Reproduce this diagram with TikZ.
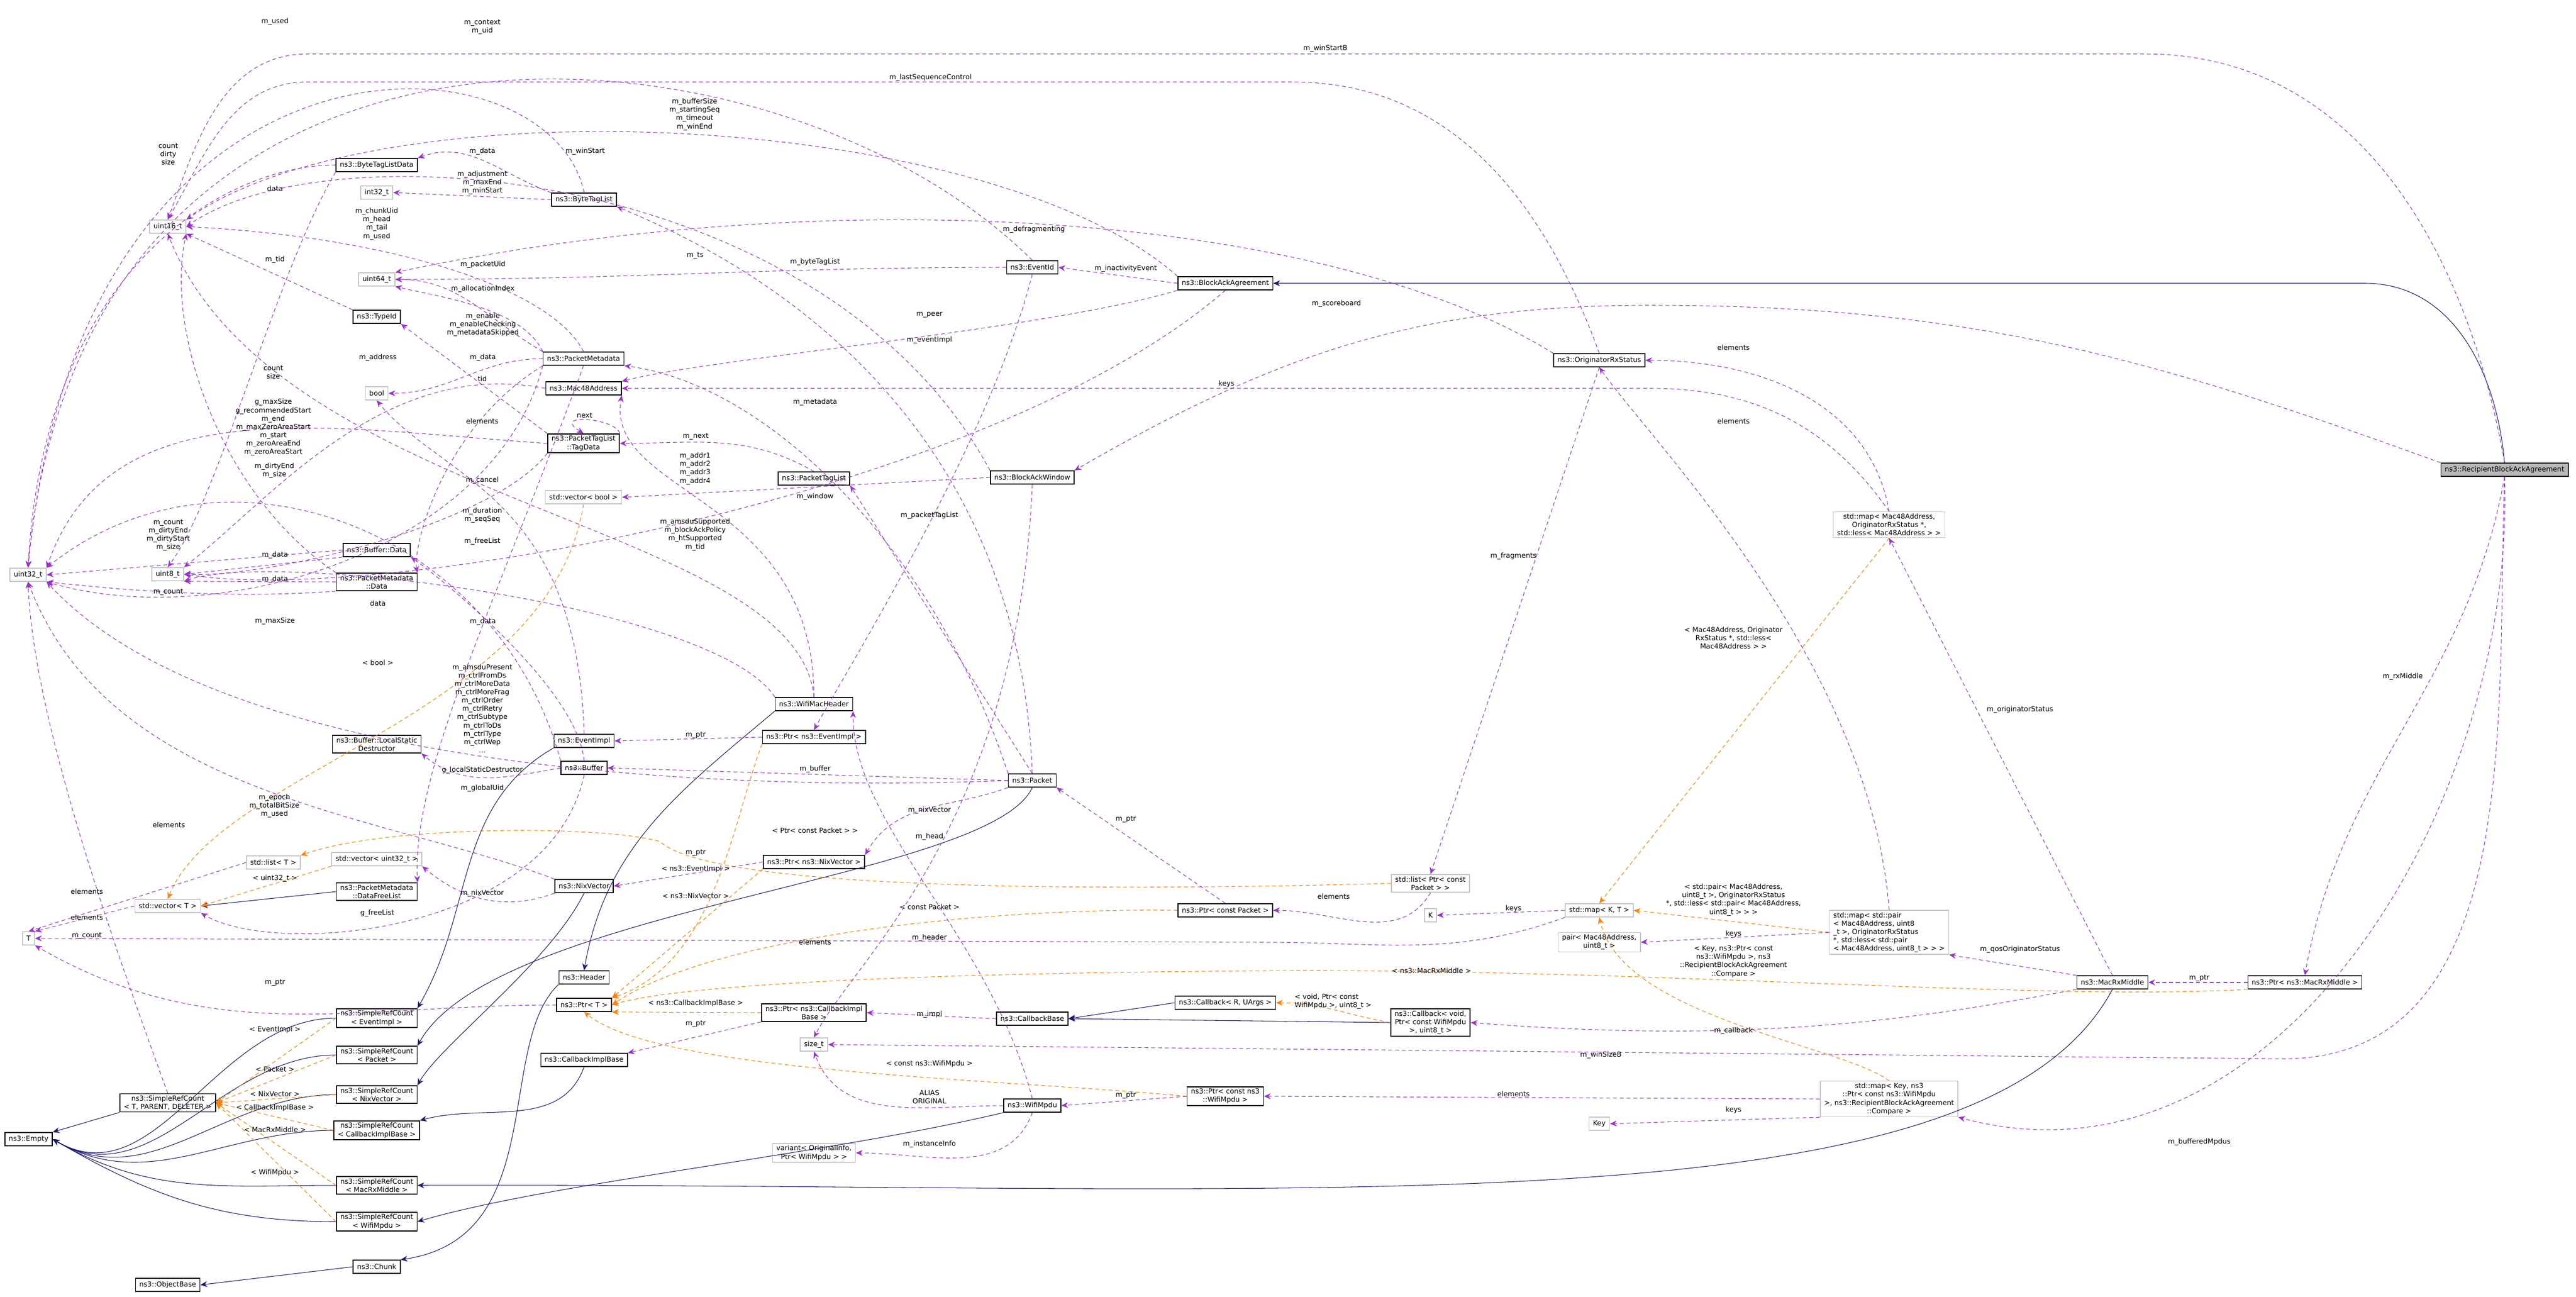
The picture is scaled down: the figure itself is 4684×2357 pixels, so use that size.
\documentclass[tikz,border=0pt]{standalone}
\usepackage{fontspec}
\setmainfont{DejaVu Sans}
\usetikzlibrary{arrows.meta}
\begin{document}
\begin{tikzpicture}[x=0.01cm,y=-0.01cm,
  every node/.style={font=\fontsize{3.6}{4.3}\selectfont},
  cls/.style={draw=black,line width=0.45pt,fill=white,minimum height=0.24cm,inner xsep=2pt,inner ysep=1pt,align=center},
  ext/.style={cls,draw=gray!45},
  mainc/.style={cls,fill=gray!55},
  use/.style={draw={rgb,255:red,154;green,50;blue,205},dashed,dash pattern=on 2pt off 1.5pt,line width=0.3pt,-{Stealth[length=3.5pt,width=3pt]}},
  inh/.style={draw={rgb,255:red,25;green,25;blue,112},line width=0.3pt,-{Stealth[length=3.5pt,width=3pt]}},
  tpl/.style={draw=orange,dashed,dash pattern=on 2pt off 1.5pt,line width=0.3pt,-{Stealth[length=3.5pt,width=3pt]}},
  lbl/.style={align=center,inner sep=0pt}]
\path[use as bounding box] (0,0) rectangle (4684,2357);
% nodes
\node[mainc] (rbaa) at (4554,854) {ns3::RecipientBlockAckAgreement};
\node[cls] (baa) at (2228,515) {ns3::BlockAckAgreement};
\node[cls] (eid) at (1877,486) {ns3::EventId};
\node[cls] (ors) at (2908,655) {ns3::OriginatorRxStatus};
\node[cls] (baw) at (1877,868) {ns3::BlockAckWindow};
\node[cls] (ptl) at (1480,870) {ns3::PacketTagList};
\node[cls] (pm) at (1061,652) {ns3::PacketMetadata};
\node[cls] (mac) at (1061,706) {ns3::Mac48Address};
\node[cls] (td) at (1061,806) {ns3::PacketTagList\\::TagData};
\node[ext] (vb) at (1061,904) {std::vector< bool >};
\node[cls] (btld) at (685,300) {ns3::ByteTagListData};
\node[ext] (i32) at (685,350) {int32\_t};
\node[cls] (btl) at (1062,363) {ns3::ByteTagList};
\node[ext] (u16) at (305,412) {uint16\_t};
\node[ext] (u64) at (685,508) {uint64\_t};
\node[cls] (tid) at (685,576) {ns3::TypeId};
\node[ext] (bool) at (685,715) {bool};
\node[cls] (bd) at (685,1000) {ns3::Buffer::Data};
\node[ext] (u32) at (51,1045) {uint32\_t};
\node[ext] (u8) at (305,1044) {uint8\_t};
\node[cls] (pmd) at (685,1058) {ns3::PacketMetadata\\::Data};
\node[cls] (lsd) at (685,1353) {ns3::Buffer::LocalStatic\\Destructor};
\node[cls] (ei) at (1062,1347) {ns3::EventImpl};
\node[cls] (buf) at (1062,1396) {ns3::Buffer};
\node[ext] (lt) at (497,1568) {std::list< T >};
\node[ext] (vu) at (685,1562) {std::vector< uint32\_t >};
\node[ext] (vt) at (305,1647) {std::vector< T >};
\node[cls] (dfl) at (685,1621) {ns3::PacketMetadata\\::DataFreeList};
\node[cls] (nix) at (1062,1611) {ns3::NixVector};
\node[ext] (T) at (52,1706) {T};
\node[cls] (hdr) at (1062,1777) {ns3::Header};
\node[cls] (ptrT) at (1062,1827) {ns3::Ptr< T >};
\node[cls] (sei) at (685,1851) {ns3::SimpleRefCount\\< EventImpl >};
\node[cls] (spk) at (685,1918) {ns3::SimpleRefCount\\< Packet >};
\node[cls] (srcT) at (305,2005) {ns3::SimpleRefCount\\< T, PARENT, DELETER >};
\node[cls] (snix) at (685,1990) {ns3::SimpleRefCount\\< NixVector >};
\node[cls] (cib) at (1062,1927) {ns3::CallbackImplBase};
\node[cls] (scib) at (685,2055) {ns3::SimpleRefCount\\< CallbackImplBase >};
\node[cls] (empty) at (52,2071) {ns3::Empty};
\node[cls] (smrm) at (685,2155) {ns3::SimpleRefCount\\< MacRxMiddle >};
\node[cls] (swm) at (685,2221) {ns3::SimpleRefCount\\< WifiMpdu >};
\node[cls] (chunk) at (685,2303) {ns3::Chunk};
\node[cls] (ob) at (305,2336) {ns3::ObjectBase};
\node[cls] (wmh) at (1480,1280) {ns3::WifiMacHeader};
\node[cls] (pei) at (1480,1340) {ns3::Ptr< ns3::EventImpl >};
\node[cls] (pkt) at (1877,1419) {ns3::Packet};
\node[cls] (pnix) at (1480,1567) {ns3::Ptr< ns3::NixVector >};
\node[ext] (lpcp) at (2601,1606) {std::list< Ptr< const\\Packet > >};
\node[cls] (pcp) at (2228,1655) {ns3::Ptr< const Packet >};
\node[ext] (K) at (2601,1664) {K};
\node[cls] (pcib) at (1480,1841) {ns3::Ptr< ns3::CallbackImpl\\Base >};
\node[cls] (cbb) at (1877,1852) {ns3::CallbackBase};
\node[cls] (cbr) at (2228,1823) {ns3::Callback< R, UArgs >};
\node[cls] (cbv) at (2601,1859) {ns3::Callback< void,\\Ptr< const WifiMpdu\\>, uint8\_t >};
\node[ext] (szt) at (1480,1899) {size\_t};
\node[cls] (pwm) at (2228,1993) {ns3::Ptr< const ns3\\::WifiMpdu >};
\node[cls] (wm) at (1877,2010) {ns3::WifiMpdu};
\node[ext] (var) at (1480,2096) {variant< OriginalInfo,\\Ptr< WifiMpdu > >};
\node[ext] (mapmac) at (3435,954) {std::map< Mac48Address,\\OriginatorRxStatus *,\\std::less< Mac48Address > >};
\node[ext] (mapKT) at (2908,1655) {std::map< K, T >};
\node[ext] (pairm) at (2908,1713) {pair< Mac48Address,\\uint8\_t >};
\node[ext,align=left] (mappair) at (3435,1695) {std::map< std::pair\\< Mac48Address, uint8\\\_t >, OriginatorRxStatus\\ *, std::less< std::pair\\< Mac48Address, uint8\_t > > >};
\node[cls] (mrm) at (3841,1786) {ns3::MacRxMiddle};
\node[cls] (pmrm) at (4191,1786) {ns3::Ptr< ns3::MacRxMiddle >};
\node[ext] (mapkey) at (3435,1998) {std::map< Key, ns3\\::Ptr< const ns3::WifiMpdu\\>, ns3::RecipientBlockAckAgreement\\::Compare >};
\node[ext] (key) at (2908,2043) {Key};
% inheritance
\draw[inh] (rbaa.north) to[out=95,in=0] (4300,515) -- (baa.east);
\draw[inh] (ei.south west) to[out=210,in=60] (sei.north east);
\draw[inh] (pkt.south) .. controls (1800,1600) and (900,1650) .. (spk.north east);
\draw[inh] (nix.south) .. controls (1000,1750) and (800,1900) .. (snix.north east);
\draw[inh] (cib.south) to[out=-110,in=15] (scib.north east);
\draw[inh] (mrm.south) .. controls (3600,2250) and (2400,2150) .. (smrm.east);
\draw[inh] (wm.south west) .. controls (1500,2100) and (1000,2150) .. (swm.east);
\foreach \s in {sei,spk,snix,scib,smrm,swm}{\draw[inh] (\s.west) to[out=180,in=-30] (empty.east);}
\draw[inh] (srcT.south west) -- (empty.north east);
\draw[inh] (wmh.south west) to[out=220,in=80] (hdr.north);
\draw[inh] (hdr.south west) .. controls (900,1900) and (1000,2250) .. (chunk.north east);
\draw[inh] (chunk.west) -- (ob.east);
\draw[inh] (cbr.west) -- (cbb.east);
\draw[inh] (cbv.west) -- (cbb.east);
\draw[inh] (dfl.west) -- (vt.east);
% templates
\foreach \s/\l/\y in {sei/{< EventImpl >}/1872,spk/{< Packet >}/1944,snix/{< NixVector >}/1989,scib/{< CallbackImplBase >}/2014,smrm/{< MacRxMiddle >}/2054,swm/{< WifiMpdu >}/2132}{\draw[tpl] (\s.west) -- (srcT.east); \node[lbl] at (500,\y) {\l};}
\draw[tpl] (vb.south) .. controls (1000,1300) and (400,1400) .. (vt.north);
\draw[tpl] (vu.south west) -- (vt.east);
\draw[tpl] (lpcp.west) .. controls (2000,1620) and (1300,1620) .. (1200,1530) .. controls (1100,1500) and (700,1500) .. (lt.north east);
\draw[tpl] (pei.south west) .. controls (1330,1500) and (1300,1750) .. (ptrT.north east);
\draw[tpl] (pnix.south west) -- (ptrT.north east);
\draw[tpl] (pcp.west) .. controls (1800,1650) and (1300,1700) .. (ptrT.east);
\draw[tpl] (pcib.west) -- (ptrT.south east);
\draw[tpl] (pwm.west) .. controls (1800,1960) and (1200,1950) .. (ptrT.south);
\draw[tpl] (pmrm.south west) .. controls (3700,1820) and (3000,1760) .. (2300,1765) .. controls (1500,1770) and (1200,1800) .. (ptrT.east);
\draw[tpl] (cbv.west) to[out=170,in=0] (cbr.east);
\draw[tpl] (mapmac.south) -- (mapKT.north);
\draw[tpl] (mappair.west) -- (mapKT.east);
\draw[tpl] (mapkey.north) .. controls (3350,1900) and (2950,1850) .. (mapKT.south);
% usage
\draw[use] (rbaa.north) to[out=100,in=0] (3900,98) -- (560,98) to[out=180,in=70] (u16.north);
\draw[use] (rbaa.north west) to[out=160,in=0] (3000,555) to[out=180,in=30] (baw.north east);
\draw[use] (rbaa.south) to[out=-100,in=80] (pmrm.north);
\draw[use] (rbaa.south) to[out=-92,in=0] (4150,1925) -- (szt.east);
\draw[use] (rbaa.south) to[out=-88,in=-15] (mapkey.south east);
\draw[use] (baa.north west) .. controls (1800,200) and (700,150) .. (u16.north east);
\draw[use] (baw.north west) .. controls (1500,300) and (600,230) .. (u16.east);
\draw[use] (baa.west) -- (eid.east);
\draw[use] (baa.south west) .. controls (1900,600) and (1300,650) .. (mac.north east);
\draw[use] (baa.south) .. controls (1800,900) and (700,1100) .. (u8.east);
\draw[use] (baw.west) -- (vb.east);
\draw[use] (baw.south) .. controls (1850,1500) and (1550,1750) .. (szt.north);
\draw[use] (eid.north) .. controls (1400,0) and (150,-80) .. (u32.north);
\draw[use] (eid.west) to[out=180,in=0] (u64.east);
\draw[use] (eid.south) .. controls (1800,800) and (1550,1200) .. (pei.north);
\draw[use] (ei.north) .. controls (1050,900) and (800,870) .. (bool.south);
\draw[use] (ors.north) to[out=110,in=0] (2350,149) -- (560,149) to[out=180,in=60] (u16.north);
\draw[use] (ors.north west) .. controls (2400,380) and (1500,330) .. (u64.north east);
\draw[use] (ors.south) -- (lpcp.north);
\draw[use] (mapmac.north) to[out=100,in=0] (ors.east);
\draw[use] (mapmac.north) to[out=125,in=0] (3000,706) -- (mac.east);
\draw[use] (mappair.north) .. controls (3400,1200) and (3000,800) .. (ors.south);
\draw[use] (mappair.west) -- (pairm.east);
\draw[use] (mapKT.west) -- (K.east);
\draw[use] (mapKT.south west) to[out=200,in=0] (2300,1713) -- (T.east);
\draw[use] (mapkey.west) -- (pwm.east);
\draw[use] (mapkey.south west) -- (key.east);
\draw[use] (mrm.north) -- (mapmac.south);
\draw[use] (mrm.north west) -- (mappair.south east);
\draw[use] (mrm.south west) .. controls (3500,1850) and (3200,1900) .. (cbv.east);
\draw[use] (pmrm.west) -- (mrm.east);
\draw[use] (pwm.west) -- (wm.east);
\draw[use] (wm.north) .. controls (1800,1700) and (1550,1500) .. (wmh.south east);
\draw[use] (wm.south) to[out=-110,in=0] (var.east);
\draw[use] (wm.west) to[out=180,in=-70] (szt.south);
\draw[use] (pcp.north) -- (pkt.south east);
\draw[use] (lpcp.south) to[out=-120,in=0] (pcp.east);
\draw[use] (ptrT.west) to[out=180,in=-30] (T.south east);
\draw[use] (pei.west) -- (ei.east);
\draw[use] (pnix.west) -- (nix.east);
\draw[use] (pcib.south west) -- (cib.north east);
\draw[use] (cbb.west) -- (pcib.east);
\draw[use] (pkt.west) -- (buf.east);
\draw[use] (pkt.north west) .. controls (1700,1000) and (1400,700) .. (pm.south east);
\draw[use] (pkt.north) -- (ptl.south east);
\draw[use] (pkt.north) .. controls (1850,700) and (1300,450) .. (btl.south east);
\draw[use] (pkt.south west) to[out=200,in=60] (pnix.north east);
\draw[use] (pkt.west) .. controls (1300,1440) and (400,1400) .. (u32.south east);
\draw[use] (nix.south west) to[out=200,in=-40] (vu.south east);
\draw[use] (nix.north west) .. controls (700,1480) and (200,1450) .. (u32.south);
\draw[use] (buf.north) .. controls (1050,1250) and (800,1050) .. (bd.south east);
\draw[use] (buf.west) to[out=190,in=-40] (lsd.south east);
\draw[use] (buf.north west) .. controls (900,950) and (400,780) .. (u32.north east);
\draw[use] (buf.south) .. controls (1000,1700) and (500,1740) .. (vt.south east);
\draw[use] (bd.west) -- (u32.east);
\draw[use] (bd.south west) -- (u8.east);
\draw[use] (pmd.west) -- (u8.south east);
\draw[use] (pmd.south west) .. controls (400,1090) and (200,1070) .. (u32.south east);
\draw[use] (pmd.north west) .. controls (400,900) and (300,600) .. (u16.south east);
\draw[use] (pm.north) .. controls (1000,520) and (700,430) .. (u16.east);
\draw[use] (pm.north west) to[out=150,in=0] (u64.east);
\draw[use] (pm.north west) .. controls (950,560) and (800,540) .. (u64.south east);
\draw[use] (pm.west) to[out=180,in=0] (bool.east);
\draw[use] (pm.south west) .. controls (800,780) and (750,1000) .. (pmd.north east);
\draw[use] (pm.south) .. controls (900,1100) and (750,1400) .. (dfl.north east);
\draw[use] (pm.south west) .. controls (900,1000) and (400,1150) .. (u32.south east);
\draw[use] (btl.west) -- (i32.east);
\draw[use] (btl.north west) to[out=160,in=20] (btld.north east);
\draw[use] (btl.north) .. controls (1000,50) and (150,0) .. (u32.north);
\draw[use] (btld.west) .. controls (400,300) and (80,500) .. (u32.north);
\draw[use] (btld.south west) .. controls (500,500) and (400,900) .. (u8.north);
\draw[use] (tid.north west) -- (u16.south east);
\draw[use] (mac.west) .. controls (700,650) and (500,900) .. (u8.north east);
\draw[use] (td.west) .. controls (600,780) and (200,700) .. (u32.north east);
\draw[use] (td.south west) .. controls (900,950) and (500,1050) .. (u8.east);
\draw[use] (td.north west) -- (tid.south east);
\draw[use] (td.north east) .. controls (1120,760) and (1000,750) .. (td.north);
\draw[use] (ptl.north) to[out=150,in=0] (td.east);
\draw[use] (wmh.north west) .. controls (1300,1100) and (500,1000) .. (u8.south east);
\draw[use] (wmh.north) .. controls (1450,950) and (500,920) .. (u16.south);
\draw[use] (wmh.north) .. controls (1480,900) and (1100,900) .. (mac.south east);
\draw[use] (srcT.north) .. controls (200,1700) and (60,1300) .. (u32.south);
\draw[use] (vt.west) -- (T.north east);
\draw[use] (lt.west) -- (T.north);
% labels
\node[lbl] at (2410,88) {m\_winStartB};
\node[lbl] at (877,49) {m\_context\\m\_uid};
\node[lbl] at (500,39) {m\_used};
\node[lbl] at (1692,141) {m\_lastSequenceControl};
\node[lbl] at (1263,208) {m\_bufferSize\\m\_startingSeq\\m\_timeout\\m\_winEnd};
\node[lbl] at (1064,275) {m\_winStart};
\node[lbl] at (877,275) {m\_data};
\node[lbl] at (306,280) {count\\dirty\\size};
\node[lbl] at (500,343) {data};
\node[lbl] at (877,332) {m\_adjustment\\m\_maxEnd\\m\_minStart};
\node[lbl] at (685,407) {m\_chunkUid\\m\_head\\m\_tail\\m\_used};
\node[lbl] at (1880,417) {m\_defragmenting};
\node[lbl] at (500,472) {m\_tid};
\node[lbl] at (878,481) {m\_packetUid};
\node[lbl] at (878,525) {m\_allocationIndex};
\node[lbl] at (878,590) {m\_enable\\m\_enableChecking\\m\_metadataSkipped};
\node[lbl] at (687,650) {m\_address};
\node[lbl] at (878,650) {m\_data};
\node[lbl] at (497,677) {count\\size};
\node[lbl] at (877,689) {tid};
\node[lbl] at (1063,755) {next};
\node[lbl] at (497,777) {g\_maxSize\\g\_recommendedStart\\m\_end\\m\_maxZeroAreaStart\\m\_start\\m\_zeroAreaEnd\\m\_zeroAreaStart};
\node[lbl] at (877,766) {elements};
\node[lbl] at (499,856) {m\_dirtyEnd\\m\_size};
\node[lbl] at (877,873) {m\_cancel};
\node[lbl] at (877,937) {m\_duration\\m\_seqSeq};
\node[lbl] at (877,984) {m\_freeList};
\node[lbl] at (306,973) {m\_count\\m\_dirtyEnd\\m\_dirtyStart\\m\_size};
\node[lbl] at (500,1009) {m\_data};
\node[lbl] at (500,1053) {m\_data};
\node[lbl] at (306,1077) {m\_count};
\node[lbl] at (687,1097) {data};
\node[lbl] at (500,1129) {m\_maxSize};
\node[lbl] at (878,1130) {m\_data};
\node[lbl] at (687,1205) {< bool >};
\node[lbl] at (877,1288) {m\_amsduPresent\\m\_ctrlFromDs\\m\_ctrlMoreData\\m\_ctrlMoreFrag\\m\_ctrlOrder\\m\_ctrlRetry\\m\_ctrlSubtype\\m\_ctrlToDs\\m\_ctrlType\\m\_ctrlWep\\...};
\node[lbl] at (877,1400) {g\_localStaticDestructor};
\node[lbl] at (877,1433) {m\_globalUid};
\node[lbl] at (499,1465) {m\_epoch\\m\_totalBitSize\\m\_used};
\node[lbl] at (307,1500) {elements};
\node[lbl] at (500,1597) {< uint32\_t >};
\node[lbl] at (158,1621) {elements};
\node[lbl] at (877,1624) {m\_nixVector};
\node[lbl] at (158,1668) {elements};
\node[lbl] at (686,1660) {g\_freeList};
\node[lbl] at (158,1702) {m\_count};
\node[lbl] at (500,1787) {m\_ptr};
\node[lbl] at (1264,465) {m\_ts};
\node[lbl] at (1482,476) {m\_byteTagList};
\node[lbl] at (2047,488) {m\_inactivityEvent};
\node[lbl] at (1690,572) {m\_peer};
\node[lbl] at (1690,618) {m\_eventImpl};
\node[lbl] at (2230,698) {keys};
\node[lbl] at (1482,731) {m\_metadata};
\node[lbl] at (1265,794) {m\_next};
\node[lbl] at (1264,852) {m\_addr1\\m\_addr2\\m\_addr3\\m\_addr4};
\node[lbl] at (1482,903) {m\_window};
\node[lbl] at (1264,972) {m\_amsduSupported\\m\_blockAckPolicy\\m\_htSupported\\m\_tid};
\node[lbl] at (1690,937) {m\_packetTagList};
\node[lbl] at (2752,1011) {m\_fragments};
\node[lbl] at (2430,552) {m\_scoreboard};
\node[lbl] at (1265,1337) {m\_ptr};
\node[lbl] at (1482,1398) {m\_buffer};
\node[lbl] at (1690,1473) {m\_nixVector};
\node[lbl] at (2047,1490) {m\_ptr};
\node[lbl] at (1482,1510) {< Ptr< const Packet > >};
\node[lbl] at (1690,1521) {m\_head};
\node[lbl] at (1265,1551) {m\_ptr};
\node[lbl] at (1265,1580) {< ns3::EventImpl >};
\node[lbl] at (1265,1629) {< ns3::NixVector >};
\node[lbl] at (2425,1630) {elements};
\node[lbl] at (1690,1649) {< const Packet >};
\node[lbl] at (2752,1652) {keys};
\node[lbl] at (1482,1713) {elements};
\node[lbl] at (1690,1705) {m\_header};
\node[lbl] at (2603,1765) {< ns3::MacRxMiddle >};
\node[lbl,align=left] at (2424,1821) {< void, Ptr< const\\WifiMpdu >, uint8\_t >};
\node[lbl] at (1265,1824) {< ns3::CallbackImplBase >};
\node[lbl] at (1690,1844) {m\_impl};
\node[lbl] at (1265,1862) {m\_ptr};
\node[lbl] at (1690,1934) {< const ns3::WifiMpdu >};
\node[lbl] at (1690,1994) {ALIAS\\ORIGINAL};
\node[lbl] at (2047,1992) {m\_ptr};
\node[lbl] at (2752,1989) {elements};
\node[lbl] at (1690,2080) {m\_instanceInfo};
\node[lbl] at (3152,632) {elements};
\node[lbl] at (3152,766) {elements};
\node[lbl] at (3152,1160) {< Mac48Address, Originator\\RxStatus *, std::less<\\Mac48Address > >};
\node[lbl] at (3673,1290) {m\_originatorStatus};
\node[lbl] at (4369,1230) {m\_rxMiddle};
\node[lbl] at (3152,1636) {< std::pair< Mac48Address,\\uint8\_t >, OriginatorRxStatus\\*, std::less< std::pair< Mac48Address,\\uint8\_t > > >};
\node[lbl] at (3152,1698) {keys};
\node[lbl] at (3673,1726) {m\_qosOriginatorStatus};
\node[lbl] at (3152,1748) {< Key, ns3::Ptr< const\\ns3::WifiMpdu >, ns3\\::RecipientBlockAckAgreement\\::Compare >};
\node[lbl] at (3999,1779) {m\_ptr};
\node[lbl] at (3152,1874) {m\_callback};
\node[lbl] at (2911,1918) {m\_winSizeB};
\node[lbl] at (3152,2018) {keys};
\node[lbl] at (3999,2076) {m\_bufferedMpdus};
\end{tikzpicture}
\end{document}
